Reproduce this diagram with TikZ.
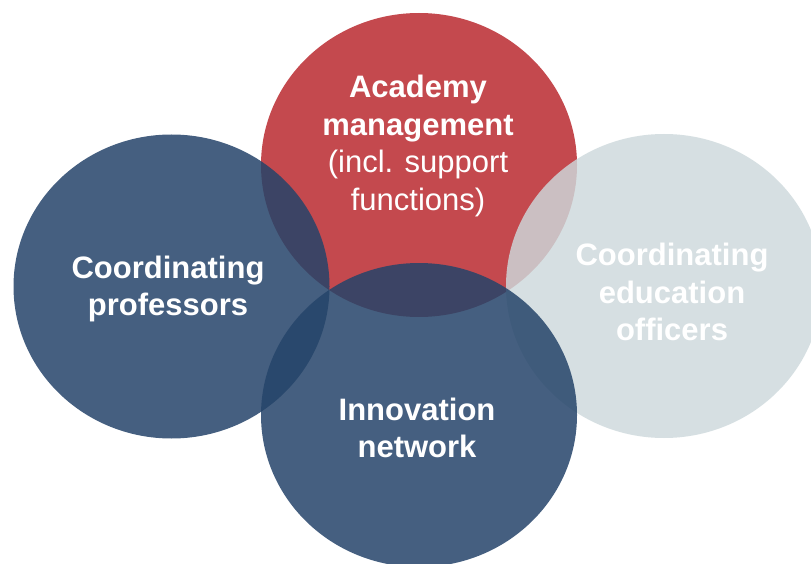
\documentclass[tikz,border=0pt]{standalone}
\usepackage{fontspec}
\setmainfont{Liberation Sans}
\usetikzlibrary{shapes.geometric}
\definecolor{blueC}{RGB}{37,68,106}
\definecolor{redC}{RGB}{196,73,78}
\definecolor{grayC}{RGB}{205,217,220}
\tikzset{
  blob/.style={ellipse, draw=none, inner sep=0pt, minimum width=316pt, minimum height=304pt},
  bluecirc/.style={blob, fill=blueC, fill opacity=0.85},
  redcirc/.style={blob, fill=redC},
  graycirc/.style={blob, fill=grayC, fill opacity=0.82},
  lbl/.style={text=white, align=center, font=\fontsize{31}{37.5}\selectfont\bfseries, inner sep=0pt},
}
\begin{document}
\begin{tikzpicture}[x=1pt,y=-1pt]
\useasboundingbox (0,0) rectangle (811,564);
\clip (0,0) rectangle (811,564);
\fill[white] (0,0) rectangle (811,564);
\node[redcirc]  (mgmt) at (419,165) {};
\node[graycirc] (edu)  at (664,286) {};
\node[bluecirc] (prof) at (171.5,286.5) {};
\node[bluecirc] (innov) at (419,415) {};
\node[lbl] (mgmtT) at (418,146) {Academy\\management\\\mdseries(incl. support\\\mdseries functions)};
\node[lbl] (profT) at (168,289) {Coordinating\\professors};
\node[lbl] (eduT) at (672,292) {Coordinating\\education\\officers};
\node[lbl] (innovT) at (417,428) {Innovation\\network};
\end{tikzpicture}
\end{document}
